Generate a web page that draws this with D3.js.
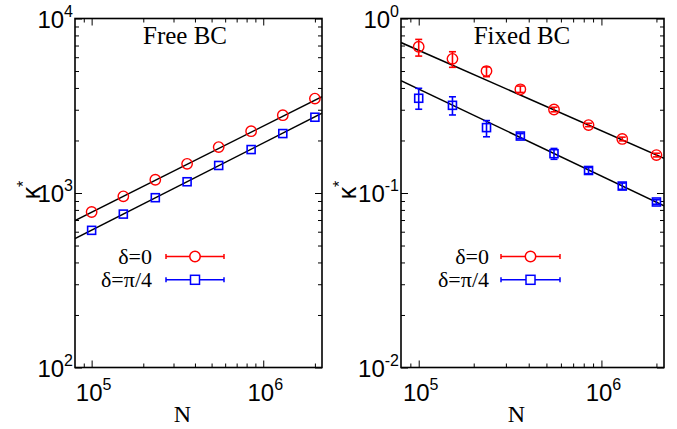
<!DOCTYPE html>
<html>
<head>
<meta charset="utf-8">
<script src="https://cdnjs.cloudflare.com/ajax/libs/d3/7.8.5/d3.min.js"></script>
<style>
body{margin:0;background:#fff;}
</style>
</head>
<body>
<script>
// data
var N=[1e5,1.53e5,2.35e5,3.6e5,5.5e5,8.5e5,1.3e6,2e6];
var xDomain=[8e4,2.2e6];
var xMajor=[1e5,1e6];
var xMinor=[9e4,2e5,3e5,4e5,5e5,6e5,7e5,8e5,9e5,2e6];
var xMajorExp=["5","6"];

var freeD0=[778,957,1191,1469,1832,2260,2791,3475];
var freePi4=[611,757,940,1160,1438,1774,2191,2718];
var freeFitD0=[695,3565];
var freeFitPi4=[548,2864];
var freeYMajor=[1e2,1e3,1e4];
var freeYExp=["2","3","4"];

var fixedD0=[0.689,0.587,0.500,0.393,0.301,0.245,0.204,0.165];
var fixedD0Lo=[0.609,0.525,0.464,0.377,0.292,0.240,0.199,0.161];
var fixedD0Hi=[0.759,0.645,0.528,0.410,0.310,0.251,0.209,0.169];
var fixedPi4=[0.349,0.318,0.237,0.212,0.168,0.1346,0.1096,0.0888];
var fixedPi4Lo=[0.302,0.280,0.210,0.205,0.156,0.129,0.105,0.0862];
var fixedPi4Hi=[0.398,0.356,0.260,0.219,0.180,0.140,0.114,0.0915];
var fixedFitD0=[0.728,0.158];
var fixedFitPi4=[0.44,0.0845];
var fixedYMajor=[1e-2,1e-1,1];
var fixedYExp=["-2","-1","0"];

var legendLabels=["\u03b4=0","\u03b4=\u03c0/4"];
var red="#ff0000",blue="#0000ff";
var SERIF="'Liberation Serif','Times New Roman','DejaVu Serif',serif";
var SANS="'Liberation Sans',Arial,Helvetica,sans-serif";

var svg=d3.select("body").append("svg").attr("width",677).attr("height",429);

function minorsFor(majors){
	var out=[];
	for(var i=0;i<majors.length-1;i++) for(var k=2;k<10;k++) out.push(majors[i]*k);
	return out;
}

function expLabel(sel,exp){
	sel.append("tspan").text("10");
	sel.append("tspan").attr("font-size","16px").attr("dy","-11").text(exp);
}

function panel(cfg){
	var w=cfg.w,h=cfg.h;
	var g=svg.append("g").attr("transform","translate("+cfg.left+","+cfg.top+")");
	var x=d3.scaleLog().domain(xDomain).range([0,w]);
	var y=d3.scaleLog().domain([cfg.yMajor[0],cfg.yMajor[cfg.yMajor.length-1]]).range([h,0]);
	var yMinor=minorsFor(cfg.yMajor);

	// ticks on all four sides, pointing in
	function ax(a,vals,len,tr){
		var s=g.append("g").attr("transform",tr).call(a.tickValues(vals).tickSize(-len).tickFormat(""));
		s.select(".domain").remove();
		s.selectAll("text").remove();
		s.selectAll("line").attr("stroke","#000").attr("stroke-width",1);
	}
	ax(d3.axisBottom(x),xMajor,7,"translate(0,"+h+")");
	ax(d3.axisBottom(x),xMinor,4,"translate(0,"+h+")");
	ax(d3.axisTop(x),xMajor,7,"translate(0,0)");
	ax(d3.axisTop(x),xMinor,4,"translate(0,0)");
	ax(d3.axisLeft(y),cfg.yMajor,7,"translate(0,0)");
	ax(d3.axisLeft(y),yMinor,4,"translate(0,0)");
	ax(d3.axisRight(y),cfg.yMajor,7,"translate("+w+",0)");
	ax(d3.axisRight(y),yMinor,4,"translate("+w+",0)");

	g.append("rect").attr("width",w).attr("height",h).attr("fill","none").attr("stroke","#000").attr("stroke-width",1.6);

	// tick labels
	xMajor.forEach(function(v,i){
		var t=g.append("text").attr("font-family",SANS).attr("font-size","24px").attr("x",x(v)+2).attr("y",h+33).attr("text-anchor","middle");
		expLabel(t,xMajorExp[i]);
	});
	cfg.yMajor.forEach(function(v,i){
		var t=g.append("text").attr("font-family",SANS).attr("font-size","24px").attr("x",-2).attr("y",y(v)+9).attr("text-anchor","end");
		expLabel(t,cfg.yExp[i]);
	});

	// fit lines
	var clip=cfg.id+"clip";
	g.append("clipPath").attr("id",clip).append("rect").attr("width",w).attr("height",h);
	var line=d3.line().x(function(d){return x(d[0]);}).y(function(d){return y(d[1]);});
	cfg.fits.forEach(function(f){
		g.append("path").datum([[xDomain[0],f[0]],[xDomain[1],f[1]]]).attr("d",line)
			.attr("fill","none").attr("stroke","#000").attr("stroke-width",1.5).attr("clip-path","url(#"+clip+")");
	});

	// series
	cfg.series.forEach(function(s){
		var pts=N.map(function(n,i){return {n:n,v:s.vals[i],lo:s.lo?s.lo[i]:null,hi:s.hi?s.hi[i]:null};});
		var sg=g.append("g").attr("stroke",s.color).attr("fill","none").attr("stroke-width",1.4);
		pts.forEach(function(p){
			if(p.lo!==null){
				sg.append("line").attr("x1",x(p.n)).attr("x2",x(p.n)).attr("y1",y(p.lo)).attr("y2",y(p.hi)).attr("stroke-width",1.6);
				[p.lo,p.hi].forEach(function(e){
					sg.append("line").attr("x1",x(p.n)-3.5).attr("x2",x(p.n)+3.5).attr("y1",y(e)).attr("y2",y(e)).attr("stroke-width",1.6);
				});
			}
		});
		if(s.shape==="circle"){
			sg.selectAll("circle").data(pts).enter().append("circle")
				.attr("cx",function(d){return x(d.n);}).attr("cy",function(d){return y(d.v);}).attr("r",5.2);
		}else{
			sg.selectAll("rect").data(pts).enter().append("rect")
				.attr("x",function(d){return x(d.n)-4;}).attr("y",function(d){return y(d.v)-4;})
				.attr("width",8).attr("height",8).attr("stroke-width",1.6);
		}
	});

	// legend
	cfg.series.forEach(function(s,i){
		var ly=cfg.legY+i*23.3;
		g.append("text").attr("font-family",SERIF).attr("font-size","22px").attr("x",cfg.legText).attr("y",ly+7)
			.attr("text-anchor","end").text(legendLabels[i]);
		var lg=g.append("g").attr("stroke",s.color).attr("fill","none").attr("stroke-width",1.5);
		lg.append("line").attr("x1",cfg.legX0).attr("x2",cfg.legX1).attr("y1",ly).attr("y2",ly);
		[cfg.legX0,cfg.legX1].forEach(function(xx){
			lg.append("line").attr("x1",xx).attr("x2",xx).attr("y1",ly-2.5).attr("y2",ly+2.5);
		});
		var mx=(cfg.legX0+cfg.legX1)/2;
		if(s.shape==="circle") lg.append("circle").attr("cx",mx).attr("cy",ly).attr("r",5.2).attr("fill","#fff");
		else lg.append("rect").attr("x",mx-4.5).attr("y",ly-4.5).attr("width",9).attr("height",9).attr("fill","#fff");
	});

	// titles and axis labels
	g.append("text").attr("font-family",SERIF).attr("font-size","25px").attr("x",cfg.titleX).attr("y",25)
		.attr("text-anchor","middle").text(cfg.title);
	g.append("text").attr("font-family",SERIF).attr("font-size","24px").attr("x",w/2-16).attr("y",h+54)
		.attr("text-anchor","middle").text("N");
	var yl=g.append("text").attr("transform","translate("+cfg.yLabX+","+(h/2-3)+") rotate(-90)")
		.attr("text-anchor","middle").attr("font-family",SANS).attr("font-size","25px");
	yl.append("tspan").text("\u03ba");
	yl.append("tspan").attr("font-size","16px").attr("dy","-11").text("*");
}

panel({id:"free",left:75,top:18.5,w:247,h:349,yMajor:freeYMajor,yExp:freeYExp,
	fits:[freeFitD0,freeFitPi4],
	series:[{vals:freeD0,color:red,shape:"circle"},{vals:freePi4,color:blue,shape:"square"}],
	legY:238,legText:77,legX0:91,legX1:149,titleX:110,title:"Free BC",yLabX:-35});

panel({id:"fixed",left:401,top:18.5,w:263,h:349,yMajor:fixedYMajor,yExp:fixedYExp,
	fits:[fixedFitD0,fixedFitPi4],
	series:[{vals:fixedD0,lo:fixedD0Lo,hi:fixedD0Hi,color:red,shape:"circle"},
		{vals:fixedPi4,lo:fixedPi4Lo,hi:fixedPi4Hi,color:blue,shape:"square"}],
	legY:238,legText:88,legX0:100,legX1:159,titleX:121,title:"Fixed BC",yLabX:-45});
</script>
</body>
</html>
